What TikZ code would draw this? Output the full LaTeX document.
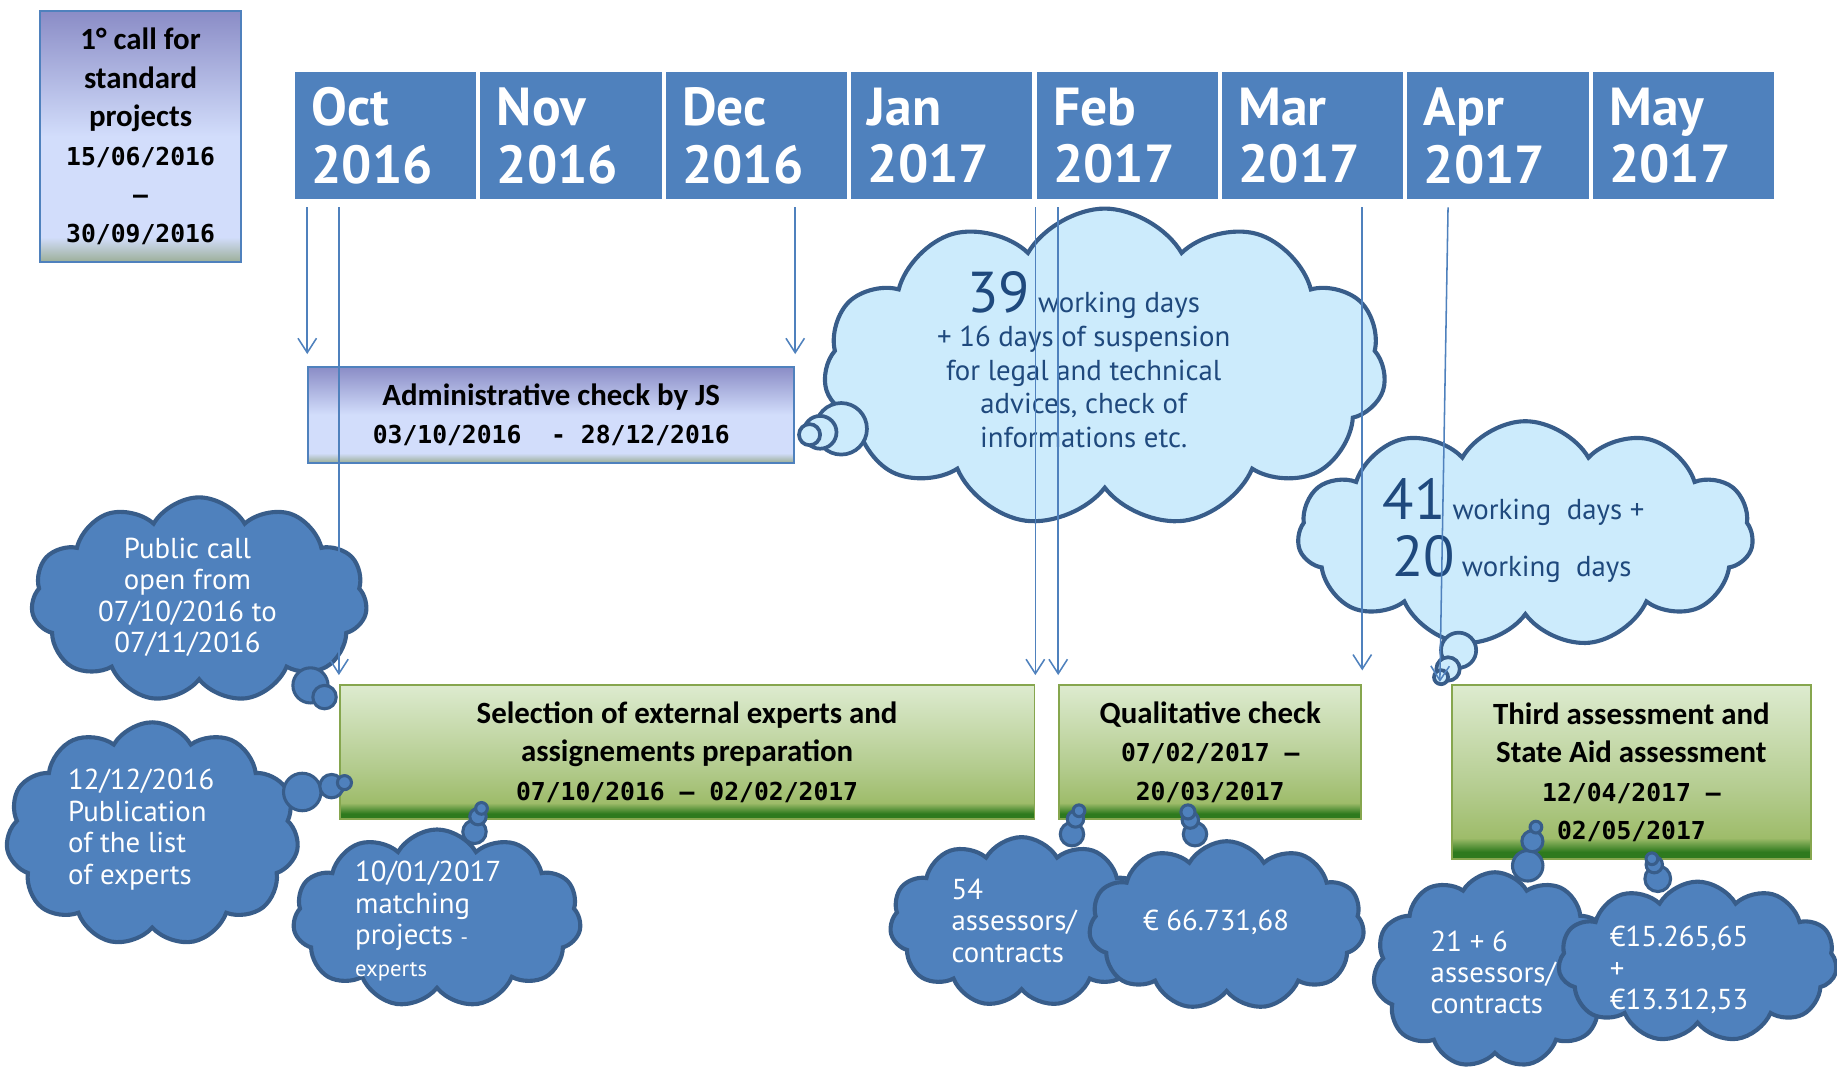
\documentclass[tikz,border=0pt]{standalone}
\usepackage{fontspec}
\setmainfont{PT Sans}
\newfontfamily\boxfont{Carlito}
\newfontfamily\datefont{DejaVu Sans Mono}
\usetikzlibrary{shapes.symbols, arrows.meta}
\definecolor{hdrblue}{RGB}{79,129,189}
\definecolor{edgeblue}{RGB}{56,93,138}
\definecolor{lightsky}{RGB}{204,235,252}
\definecolor{inkblue}{RGB}{31,73,125}
\definecolor{calltop}{RGB}{138,140,198}
\definecolor{callmid}{RGB}{210,221,251}
\definecolor{callbot}{RGB}{155,174,150}
\definecolor{grtop}{RGB}{221,235,207}
\definecolor{grmid}{RGB}{180,204,143}
\definecolor{grlow}{RGB}{158,188,106}
\definecolor{grbot}{RGB}{46,122,30}
\definecolor{gredge}{RGB}{134,166,78}
\pgfdeclareverticalshading{callshade}{100bp}{color(0bp)=(callbot); color(25bp)=(callbot); color(30bp)=(callmid); color(50bp)=(callmid); color(75bp)=(calltop); color(100bp)=(calltop)}
\pgfdeclareverticalshading{greenshade}{100bp}{color(0bp)=(grbot); color(25bp)=(grbot); color(27bp)=(grbot); color(31bp)=(grlow); color(45bp)=(grmid); color(75bp)=(grtop); color(100bp)=(grtop)}
\newcommand{\datetxt}[1]{{\datefont\bfseries\fontsize{12}{18.7}\selectfont #1}}

\begin{document}
\begin{tikzpicture}[x=0.02cm, y=-0.02cm, >={Straight Barb[length=7pt,width=9pt]},
        monthbox/.style={draw=white, line width=1pt, fill=hdrblue, text=white, anchor=north west,
          minimum width=3.13cm, minimum height=2.2cm, inner xsep=0.3cm, text width=2.53cm,
          align=left, font=\bfseries\fontsize{26}{28}\selectfont},
        bluebox/.style={draw=hdrblue, line width=0.9pt, shading=callshade, align=center,
          font=\boxfont\bfseries\fontsize{15}{18.7}\selectfont},
        greenbox/.style={draw=gredge, line width=0.9pt, shading=greenshade, align=center,
          font=\boxfont\bfseries\fontsize{15}{18.7}\selectfont},
        lcloud/.style={cloud, cloud puffs=11, cloud puff arc=120, cloud ignores aspect,
          draw=edgeblue, line width=2pt, fill=lightsky},
        dcloud/.style={lcloud, fill=hdrblue},
        ltail/.style={draw=edgeblue, line width=1.8pt, fill=lightsky},
        dtail/.style={draw=edgeblue, line width=1.5pt, fill=hdrblue},
        btxt/.style={text=inkblue, font=\fontsize{14}{16.5}\selectfont},
        wtxt/.style={text=white, font=\fontsize{14}{15.3}\selectfont},
        arr/.style={draw=hdrblue, line width=0.75pt, ->}]
        \useasboundingbox (0,0) rectangle (1568,914);

        \foreach \mon/\yr [count=\i from 0] in {Oct/2016, Nov/2016, Dec/2016, Jan/2017,
            Feb/2017, Mar/2017, Apr/2017, May/2017}
          \node[monthbox] (m\i) at ({250+158.25*\i},60) {\mon\\\yr};
        \coordinate (hb) at (0,177);

        \node[bluebox, minimum width=3.44cm, minimum height=4.3cm] (call) at (120,116.5)
          {1° call for\\standard\\projects\\\datetxt{15/06/2016}\\\datetxt{–}\\\datetxt{30/09/2016}};
        \node[bluebox, minimum width=8.3cm, minimum height=1.64cm] (admin) at (470.5,354)
          {Administrative check by JS\\\datetxt{03/10/2016~~- 28/12/2016}};
        \node[greenbox, minimum width=11.86cm, minimum height=2.28cm] (sel) at (586.5,642)
          {Selection of external experts and\\assignements preparation\\\datetxt{07/10/2016 – 02/02/2017}};
        \node[greenbox, minimum width=5.16cm, minimum height=2.28cm] (qual) at (1033,642)
          {Qualitative check\\\datetxt{07/02/2017 –}\\\datetxt{20/03/2017}};
        \node[greenbox, minimum width=6.14cm, minimum height=2.96cm] (third) at (1392.5,659)
          {Third assessment and\\State Aid assessment\\\datetxt{12/04/2017 –}\\\datetxt{02/05/2017}};

        % light clouds
        \node[lcloud, minimum width=9.6cm, minimum height=5.44cm] (c39) at (943,314) {};
        \foreach \cx/\cy/\r in {718/366/22, 700/369/14, 691/371/9}
          \draw[ltail] (\cx,\cy) circle[radius={\r*0.02cm}];
        \node[btxt, align=center] (t39) at (925,307)
          {{\fontsize{28}{28}\selectfont 39} working days\\+ 16 days of suspension\\for legal and technical\\advices, check of\\informations etc.};
        \node[lcloud, minimum width=7.78cm, minimum height=3.86cm] (c41) at (1302,456) {};
        \foreach \cx/\cy/\r in {1245/555/15, 1236/571/10, 1230/578/6}
          \draw[ltail] (\cx,\cy) circle[radius={\r*0.02cm}];
        \node[btxt, anchor=base west] (t41) at (1174,443)
          {{\fontsize{28}{28}\selectfont 41}\hspace{0.12cm}working~~days +};
        \node[btxt, anchor=base west] (t20) at (1182,492)
          {{\fontsize{28}{28}\selectfont 20}\hspace{0.12cm}working~~days};

        % dark clouds
        \node[dcloud, minimum width=5.74cm, minimum height=3.5cm] (cpub) at (170,512) {};
        \foreach \cx/\cy/\r in {265/585/15, 277/595/10}
          \draw[dtail] (\cx,\cy) circle[radius={\r*0.02cm}];
        \node[wtxt, align=center] (tpub) at (160,510) {Public call\\open from\\07/10/2016 to\\07/11/2016};
        \node[dcloud, minimum width=5cm, minimum height=3.82cm] (clist) at (130,712) {};
        \foreach \cx/\cy/\r in {258/676/16, 283/671/10, 294/668/6}
          \draw[dtail] (\cx,\cy) circle[radius={\r*0.02cm}];
        \node[wtxt, align=left, anchor=west] (tlist) at (52,708) {12/12/2016\\Publication\\of the list\\of experts};
        \node[dcloud, minimum width=4.92cm, minimum height=3.04cm] (cmatch) at (373,784) {};
        \foreach \cx/\cy/\r in {405/710/10, 408/697/7, 411/690/5}
          \draw[dtail] (\cx,\cy) circle[radius={\r*0.02cm}];
        \node[wtxt, align=left, anchor=west] (tmatch) at (297,786)
          {10/01/2017\\matching\\projects {\fontsize{10}{12}\selectfont -}\\{\fontsize{11}{12}\selectfont experts}};
        \node[dcloud, minimum width=4.5cm, minimum height=2.9cm] (c54) at (872,787) {};
        \foreach \cx/\cy/\r in {915/712/10, 918/699/7, 921/692/5}
          \draw[dtail] (\cx,\cy) circle[radius={\r*0.02cm}];
        \node[wtxt, align=left, anchor=west] (t54) at (806,786) {54\\assessors/\\contracts};
        \node[dcloud, minimum width=4.7cm, minimum height=2.88cm] (ceur1) at (1047,790) {};
        \foreach \cx/\cy/\r in {1020/712/10, 1016/700/7, 1014/693/6}
          \draw[dtail] (\cx,\cy) circle[radius={\r*0.02cm}];
        \node[wtxt] (teur1) at (1038,787) {€ 66.731,68};
        \node[dcloud, minimum width=4.16cm, minimum height=3.34cm] (c21) at (1276,828) {};
        \foreach \cx/\cy/\r in {1304/739/13, 1308/718/9, 1311/706/5}
          \draw[dtail] (\cx,\cy) circle[radius={\r*0.02cm}];
        \node[wtxt, align=left, anchor=west] (t21) at (1215,830) {21 + 6\\assessors/\\contracts};
        \node[dcloud, minimum width=4.76cm, minimum height=2.74cm] (ceur2) at (1449,821) {};
        \foreach \cx/\cy/\r in {1415/750/11, 1412/738/7, 1410/733/5}
          \draw[dtail] (\cx,\cy) circle[radius={\r*0.02cm}];
        \node[wtxt, align=left, anchor=west] (teur2) at (1368,828) {€15.265,65\\+\\€13.312,53};

        % arrows from the months
        \draw[arr, shorten >=0.2cm] (admin.north west |- hb) -- (admin.north west);
        \draw[arr, shorten >=0.2cm] (admin.north east |- hb) -- (admin.north east);
        \draw[arr, shorten >=0.16cm] (sel.north west |- hb) -- (sel.north west);
        \draw[arr, shorten >=0.16cm] (sel.north east |- hb) -- (sel.north east);
        \draw[arr, shorten >=0.16cm] (qual.north west |- hb) -- (qual.north west);
        \draw[arr, shorten >=0.24cm] (qual.north east |- hb) -- (qual.north east);
        \coordinate (aprtop) at (1236,177);
        \coordinate (aprend) at (1229,582);
        \draw[arr] (aprtop) -- (aprend);
\end{tikzpicture}
\end{document}
